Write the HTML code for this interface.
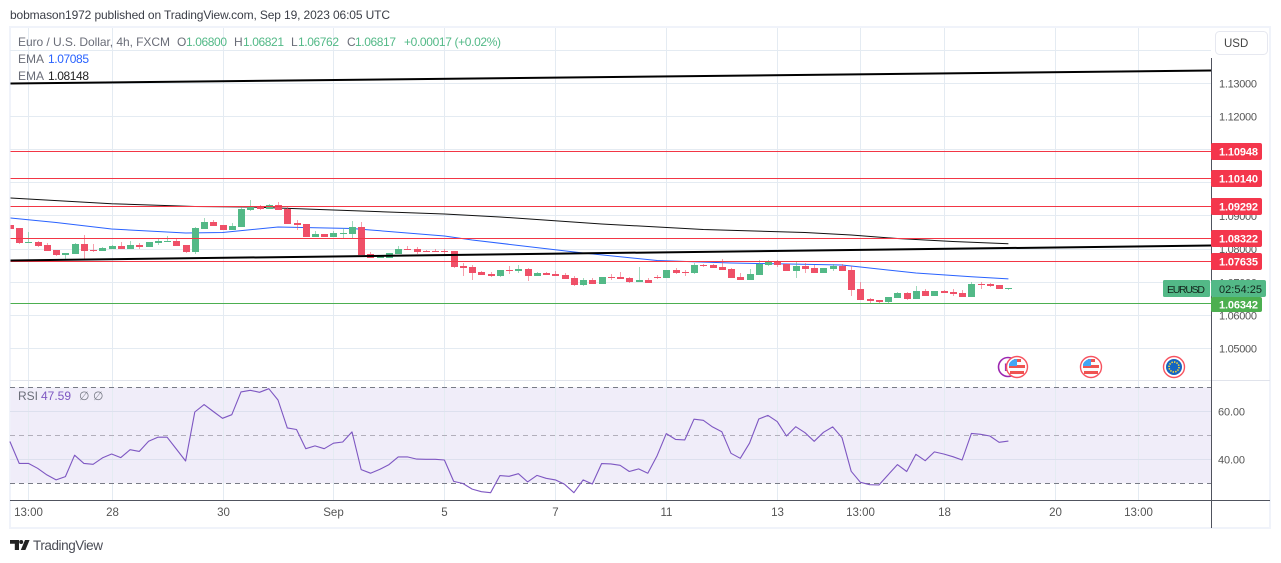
<!DOCTYPE html>
<html lang="en">
<head>
<meta charset="utf-8">
<title>EURUSD chart</title>
<style>
html,body{margin:0;padding:0;background:#fff;width:1281px;height:563px;overflow:hidden}
svg{display:block;font-family:"Liberation Sans",sans-serif}
text{white-space:pre}
</style>
</head>
<body>
<svg id="chart" xmlns="http://www.w3.org/2000/svg" width="1281" height="563" viewBox="0 0 1281 563">
  <text x="10" y="19" font-size="12" fill="#3b3e47" textLength="380" lengthAdjust="spacing">bobmason1972 published on TradingView.com, Sep 19, 2023 06:05 UTC</text>
  <rect x="10" y="27" width="1260" height="501" fill="#fff" stroke="#f0f3fa" stroke-width="2"/>
  <g id="rsi-band-layer"></g>
  <g id="grid"></g>
  <line x1="10" y1="380.5" x2="1270" y2="380.5" stroke="#e0e3eb"/>
  <defs><clipPath id="plot-clip"><rect x="10.5" y="28" width="1200.5" height="352"/></clipPath></defs>
  <g id="emas" clip-path="url(#plot-clip)"></g>
  <g id="candles" clip-path="url(#plot-clip)"></g>
  <g id="drawings" clip-path="url(#plot-clip)"></g>
  <g id="rsi"></g>
  <line x1="10" y1="500.5" x2="1270" y2="500.5" stroke="#50535e"/>
  <line x1="1211.5" y1="58" x2="1211.5" y2="528" stroke="#50535e"/>
  <g id="axis" font-size="11.5" fill="#555"></g>

  <g>
    <circle cx="1008" cy="367" r="9.5" fill="#fff" stroke="#9c27b0" stroke-width="1.6"/>
    <text x="1004" y="371" font-size="11" fill="#9c27b0">E</text>
  </g>
  <g transform="translate(1017 367)">
    <circle r="10.5" fill="#fff" stroke="#f7525f" stroke-width="1.4"/>
    <circle r="8" fill="#fbfbfb"/><rect x="-8" y="-2" width="16" height="3" fill="#ef5350"/><rect x="-7" y="4" width="14" height="3" fill="#ef5350"/><rect x="-3" y="-8" width="7" height="3" fill="#ef5350"/><path d="M-8 -1V-3A8 8 0 0 1 0 -8V-1Z" fill="#42a5f5"/>
  </g>
  <g transform="translate(1091 367)">
    <circle r="10.5" fill="#fff" stroke="#f7525f" stroke-width="1.4"/>
    <circle r="8" fill="#fbfbfb"/><rect x="-8" y="-2" width="16" height="3" fill="#ef5350"/><rect x="-7" y="4" width="14" height="3" fill="#ef5350"/><rect x="-3" y="-8" width="7" height="3" fill="#ef5350"/><path d="M-8 -1V-3A8 8 0 0 1 0 -8V-1Z" fill="#42a5f5"/>
  </g>
  <g transform="translate(1174 367)">
    <circle r="10.5" fill="#fff" stroke="#f7525f" stroke-width="1.4"/>
    <circle r="8" fill="#1565c0"/><circle r="5" fill="none" stroke="#fdd835" stroke-width="1.6" stroke-dasharray="1.4 1.2"/>
  </g>

  <g font-size="12">
    <text x="18" y="46" fill="#6a6d78" textLength="152" lengthAdjust="spacing">Euro / U.S. Dollar, 4h, FXCM</text>
    <text x="177" y="46" fill="#6a6d78">O</text>
    <text x="186" y="46" fill="#53b987" textLength="41">1.06800</text>
    <text x="234" y="46" fill="#6a6d78">H</text>
    <text x="243" y="46" fill="#53b987" textLength="41">1.06821</text>
    <text x="291" y="46" fill="#6a6d78">L</text>
    <text x="298" y="46" fill="#53b987" textLength="41">1.06762</text>
    <text x="347" y="46" fill="#6a6d78">C</text>
    <text x="355" y="46" fill="#53b987" textLength="41">1.06817</text>
    <text x="404" y="46" fill="#53b987" textLength="97">+0.00017 (+0.02%)</text>
    <text x="18" y="63" fill="#6a6d78">EMA</text>
    <text x="48" y="63" fill="#2962ff" textLength="41">1.07085</text>
    <text x="18" y="80" fill="#6a6d78">EMA</text>
    <text x="48" y="80" fill="#222" textLength="41">1.08148</text>
    <text x="18" y="400" fill="#6a6d78">RSI</text>
    <text x="41" y="400" fill="#7e57c2" textLength="30">47.59</text>
    <text x="79" y="400" fill="#787b86">∅</text>
    <text x="93" y="400" fill="#787b86">∅</text>
  </g>

  <g>
    <rect x="1215.5" y="31.5" width="52" height="23" rx="4" fill="#fff" stroke="#e6e8f0"/>
    <text x="1224" y="47" font-size="11.5" fill="#444">USD</text>
  </g>

  <g id="axis-tags" font-size="11"></g>

  <g>
    <rect x="1163" y="280" width="47" height="17" rx="1.5" fill="#53b987"/>
    <text x="1167" y="293" font-size="10.5" fill="#12261c" textLength="38">EURUSD</text>
    <rect x="1211" y="280" width="55" height="17" rx="2" fill="#53b987"/>
    <text x="1219" y="293" font-size="11" fill="#12261c" textLength="43">02:54:25</text>
  </g>

  <g>
    <path d="M10 540h9v10h-4.2v-6.2H10z" fill="#222"/>
    <circle cx="21.2" cy="542" r="2" fill="#222"/>
    <path d="M25 540h4.6l-4.2 10h-4.6z" fill="#222"/>
    <text x="33" y="550" font-size="13.5" fill="#4a4c55" textLength="70">TradingView</text>
  </g>
</svg>

<script>
// Candle OHLC series, one entry per 4h bar
var opens = [1.08713,1.08623,1.08170,1.08200,1.08109,1.07958,1.07807,1.07838,1.08140,1.07958,1.07928,1.07989,1.08079,1.07989,1.08109,1.08049,1.08170,1.08200,1.08230,1.08109,1.07898,1.08592,1.08804,1.08713,1.08562,1.08653,1.09166,1.09287,1.09196,1.09317,1.09196,1.08774,1.08743,1.08351,1.08442,1.08351,1.08442,1.08442,1.08653,1.07838,1.07717,1.07717,1.07838,1.07989,1.07989,1.07928,1.07928,1.07928,1.07928,1.07475,1.07445,1.07294,1.07234,1.07174,1.07355,1.07325,1.07385,1.07174,1.07264,1.07234,1.07204,1.07113,1.06902,1.07053,1.06932,1.07143,1.07143,1.07113,1.06992,1.07053,1.07143,1.07113,1.07355,1.07294,1.07264,1.07506,1.07506,1.07445,1.07385,1.07143,1.07053,1.07204,1.07506,1.07626,1.07536,1.07325,1.07475,1.07415,1.07264,1.07385,1.07475,1.07355,1.06781,1.06479,1.06449,1.06389,1.06509,1.06660,1.06479,1.06721,1.06570,1.06721,1.06691,1.06660,1.06540,1.06932,1.06932,1.06902,1.06800];
var highs = [1.08713,1.08623,1.08502,1.08230,1.08170,1.07958,1.07868,1.08170,1.08411,1.08140,1.08049,1.08109,1.08200,1.08230,1.08170,1.08200,1.08321,1.08381,1.08291,1.08109,1.08653,1.08925,1.08864,1.08713,1.08774,1.09257,1.09468,1.09317,1.09347,1.09407,1.09257,1.08864,1.08743,1.08532,1.08442,1.08532,1.08623,1.08834,1.08804,1.07898,1.07807,1.07868,1.08079,1.08079,1.08049,1.07958,1.07989,1.07989,1.07928,1.07566,1.07506,1.07325,1.07294,1.07355,1.07475,1.07506,1.07415,1.07294,1.07294,1.07325,1.07264,1.07174,1.07113,1.07113,1.07143,1.07234,1.07294,1.07143,1.07445,1.07113,1.07204,1.07355,1.07415,1.07355,1.07566,1.07536,1.07536,1.07687,1.07415,1.07264,1.07385,1.07657,1.07657,1.07657,1.07536,1.07626,1.07566,1.07506,1.07415,1.07536,1.07536,1.07475,1.06992,1.06509,1.06449,1.06540,1.06691,1.06691,1.06872,1.06781,1.06721,1.06751,1.06781,1.06751,1.06992,1.06992,1.06962,1.06902,1.06821];
var lows = [1.08592,1.08140,1.08170,1.08049,1.07928,1.07777,1.07687,1.07838,1.07687,1.07898,1.07928,1.07989,1.07989,1.07989,1.07989,1.08049,1.08109,1.08200,1.08079,1.07868,1.07838,1.08592,1.08683,1.08562,1.08562,1.08653,1.09136,1.09166,1.09196,1.09166,1.08743,1.08562,1.08351,1.08351,1.08351,1.08351,1.08291,1.08321,1.07807,1.07717,1.07717,1.07717,1.07838,1.07958,1.07838,1.07898,1.07898,1.07838,1.07415,1.07174,1.07053,1.07204,1.07143,1.07143,1.07234,1.07264,1.07023,1.07174,1.07204,1.07174,1.07083,1.06872,1.06872,1.06932,1.06932,1.07053,1.07083,1.06962,1.06992,1.06962,1.07083,1.07113,1.07234,1.07174,1.07234,1.07445,1.07415,1.07355,1.07113,1.07053,1.07053,1.07204,1.07475,1.07445,1.07325,1.07113,1.07264,1.07264,1.07264,1.07325,1.07325,1.06570,1.06449,1.06328,1.06358,1.06328,1.06509,1.06449,1.06479,1.06570,1.06570,1.06660,1.06570,1.06540,1.06540,1.06781,1.06842,1.06781,1.06762];
var closes = [1.08592,1.08170,1.08200,1.08079,1.07928,1.07807,1.07868,1.08140,1.07928,1.07928,1.08019,1.08079,1.07989,1.08109,1.08049,1.08200,1.08230,1.08230,1.08079,1.07898,1.08623,1.08804,1.08683,1.08562,1.08683,1.09196,1.09257,1.09196,1.09317,1.09166,1.08743,1.08713,1.08351,1.08442,1.08351,1.08472,1.08472,1.08653,1.07807,1.07717,1.07777,1.07868,1.07989,1.07958,1.07898,1.07898,1.07898,1.07898,1.07445,1.07415,1.07264,1.07204,1.07174,1.07355,1.07325,1.07385,1.07174,1.07264,1.07204,1.07174,1.07083,1.06902,1.07053,1.06932,1.07143,1.07113,1.07083,1.06992,1.07053,1.06962,1.07113,1.07355,1.07264,1.07264,1.07506,1.07475,1.07415,1.07355,1.07113,1.07053,1.07234,1.07536,1.07596,1.07506,1.07325,1.07475,1.07385,1.07264,1.07415,1.07475,1.07325,1.06751,1.06449,1.06419,1.06389,1.06540,1.06660,1.06479,1.06721,1.06570,1.06721,1.06660,1.06630,1.06540,1.06932,1.06902,1.06872,1.06781,1.06817];

// RSI value for each bar
var rsiValues = [47.4,38.3,38.3,36.25,33.5,31.4,32.8,41.7,38.3,37.9,40.6,42.2,40.7,44.0,43.3,47.5,49.2,49.2,44.3,39.3,59.7,62.8,59.9,57.1,58.6,68.1,68.75,67.9,69.4,64.7,53.1,52.4,44.4,45.6,44.4,46.7,47.2,51.4,35.7,34.2,35.8,37.8,41.0,41.0,40.1,40.0,40.0,39.7,30.8,29.9,27.6,26.5,26.1,33.2,32.9,34.0,30.6,33.3,32.1,31.4,29.6,26.1,31.4,29.7,38.2,38.1,37.5,34.9,36.0,34.2,41.5,50.7,48.3,48.1,56.7,56.25,53.5,51.5,42.5,40.4,46.7,56.8,58.3,55.7,49.7,53.6,51.1,47.5,51.25,53.5,49.0,35.0,30.4,29.4,29.3,33.6,37.8,34.9,42.1,39.4,43.1,42.2,41.1,39.7,50.8,50.4,49.7,47.1,47.59];

// EMA readings: bar numbers and the price at each
var emaBlueBars = [0,5,11,19,23,29,37,39,47,50,62,70,78,90,92,98,104,108];
var emaBlueValues = [1.08924,1.08789,1.08592,1.08472,1.08487,1.08653,1.08608,1.08562,1.08381,1.08260,1.07868,1.07642,1.07566,1.07506,1.07445,1.07264,1.07152,1.07085];
var emaBlackBars = [0,11,20,26,35,47,53,64,75,86,91,96,102,108];
var emaBlackValues = [1.09528,1.09356,1.09272,1.09257,1.09166,1.09045,1.08955,1.08743,1.08577,1.08487,1.08411,1.08306,1.08215,1.08148];

// Drawn levels and trend lines (prices)
var redLevels = [1.10948,1.10140,1.09292,1.08322,1.07635];
var greenLevels = [1.06342];
var upperTrend = [1.12985,1.13377];
var lowerTrend = [1.07642,1.08094];

// Axis labels
var priceTicks = [1.13,1.12,1.11,1.10,1.09,1.08,1.07,1.06,1.05];
var gridOnlyTicks = [1.14];
var rsiTicks = [60,40];
var rsiBandLevels = [70,50,30];
var timeBars = [2,11,23,35,47,59,71,83,92,101,113,122];
var timeLabels = ['13:00','28','30','Sep','5','7','11','13','13:00','18','20','13:00'];

var NS = 'http://www.w3.org/2000/svg';
function xOf(bar) { return 9.91 + 9.245 * bar; }
function yOf(price) { return 83 + (1.13 - price) * 3312.5; }
function yRsi(v) { return 387.3 + (70 - v) * 2.4; }
function make(tag, attrs, parent) {
  var el = document.createElementNS(NS, tag);
  for (var k in attrs) el.setAttribute(k, attrs[k]);
  parent.appendChild(el);
  return el;
}
var gridG = document.getElementById('grid');
var emaG = document.getElementById('emas');
var candleG = document.getElementById('candles');
var drawG = document.getElementById('drawings');
var rsiG = document.getElementById('rsi');
var axisG = document.getElementById('axis');
var tagG = document.getElementById('axis-tags');
var bandG = document.getElementById('rsi-band-layer');

// RSI band background
var band = make('rect', {x: 10.5, y: yRsi(rsiBandLevels[0]), width: 1200.5, height: yRsi(rsiBandLevels[2]) - yRsi(rsiBandLevels[0]), fill: '#f0edf9'}, bandG);



// Vertical grid + time labels
timeBars.forEach(function (b, i) {
  var x = Math.round(xOf(b)) + 0.5;
  var vl = make('line', {x1: x, x2: x, y1: 28, y2: 500, stroke: '#e4ebf2'}, gridG);
  
  
  var t = make('text', {x: x, y: 516, 'text-anchor': 'middle'}, axisG);
  t.textContent = timeLabels[i];
  
  
});

// Extra top gridline above the first labelled tick
gridOnlyTicks.forEach(function (p) {
  var y = Math.round(yOf(p)) + 0.5;
  var gl = make('line', {x1: 10, x2: 1211, y1: y, y2: y, stroke: '#e4ebf2'}, gridG);
  
  
});

// Horizontal grid + price labels
priceTicks.forEach(function (p) {
  var y = Math.round(yOf(p)) + 0.5;
  var hl = make('line', {x1: 10, x2: 1211, y1: y, y2: y, stroke: '#e4ebf2'}, gridG);
  
  
  var t = make('text', {x: 1219, y: yOf(p) + 4.5, textLength: 38, 'font-size': 11}, axisG);
  t.textContent = p.toFixed(5);
  
  
});

// EMA lines
function linePath(bars, values, yFn) {
  return bars.map(function (b, i) {
    return (i ? 'L' : 'M') + xOf(b).toFixed(1) + ' ' + yFn(values[i]).toFixed(1);
  }).join('');
}
var blue = make('path', {d: linePath(emaBlueBars, emaBlueValues, yOf), fill: 'none', stroke: '#2962ff', 'stroke-width': 1}, emaG);


var black = make('path', {d: linePath(emaBlackBars, emaBlackValues, yOf), fill: 'none', stroke: '#111', 'stroke-width': 1}, emaG);



// Candles
opens.forEach(function (o, i) {
  var c = closes[i], up = c >= o, col = up ? '#53b987' : '#ef5068';
  var cx = Math.round(xOf(i));
  var wick = make('line', {x1: cx + 0.5, x2: cx + 0.5, y1: Math.round(yOf(highs[i])), y2: Math.round(yOf(lows[i])), stroke: col, 'stroke-opacity': 0.55}, candleG);
  
  
  var top = Math.round(yOf(Math.max(o, c)));
  var bot = Math.round(yOf(Math.min(o, c)));
  var body = make('rect', {x: cx - 3, y: top, width: 7, height: Math.max(1, bot - top), fill: col}, candleG);
  
  
});

// Horizontal levels
redLevels.forEach(function (p) {
  var y = Math.round(yOf(p) - 0.1) + 0.5;
  var l = make('line', {x1: 10, x2: 1211, y1: y, y2: y, stroke: '#f23645'}, drawG);
  
  
  var r = make('rect', {x: 1211, y: y - 8.5, width: 51, height: 17, rx: 2, fill: '#f4364c'}, tagG);
  
  
  var t = make('text', {x: 1219, y: y + 4, fill: '#fff', 'font-weight': 'bold', textLength: 39}, tagG);
  t.textContent = p.toFixed(5);
  
  
});
greenLevels.forEach(function (p) {
  var y = Math.round(yOf(p) - 0.1) + 0.5;
  var l = make('line', {x1: 10, x2: 1211, y1: y, y2: y, stroke: '#4caf50'}, drawG);
  
  
  var r = make('rect', {x: 1211, y: y - 6.5, width: 51, height: 15, rx: 2, fill: '#4caf50'}, tagG);
  
  
  var t = make('text', {x: 1219, y: y + 5, fill: '#fff', 'font-weight': 'bold', textLength: 39}, tagG);
  t.textContent = p.toFixed(5);
  
  
});

// Trend lines
var tl1 = make('line', {x1: 10, x2: 1211, y1: yOf(upperTrend[0]), y2: yOf(upperTrend[1]), stroke: '#000', 'stroke-width': 2}, drawG);


var tl2 = make('line', {x1: 10, x2: 1211, y1: yOf(lowerTrend[0]), y2: yOf(lowerTrend[1]), stroke: '#000', 'stroke-width': 2}, drawG);



// RSI pane
rsiTicks.forEach(function (v) {
  var y = Math.round(yRsi(v)) + 0.5;
  var g = make('line', {x1: 10, x2: 1211, y1: y, y2: y, stroke: '#dde0ee'}, gridG);
  
  
  var t = make('text', {x: 1218, y: y + 4, textLength: 27, 'font-size': 11}, axisG);
  t.textContent = v.toFixed(2);
  
  
});
rsiBandLevels.forEach(function (v, i) {
  var y = Math.round(yRsi(v)) + 0.5;
  var d = make('line', {x1: 10, x2: 1211, y1: y, y2: y, stroke: i === 1 ? '#b2afbb' : '#787b86', 'stroke-dasharray': '5 4'}, rsiG);
  
  
});
var rsiBars = rsiValues.map(function (v, i) { return i; });
var rsiLine = make('path', {d: linePath(rsiBars, rsiValues, yRsi), fill: 'none', stroke: '#7e57c2', 'stroke-width': 1.1, 'stroke-linejoin': 'round'}, rsiG);


</script>
</body>
</html>
